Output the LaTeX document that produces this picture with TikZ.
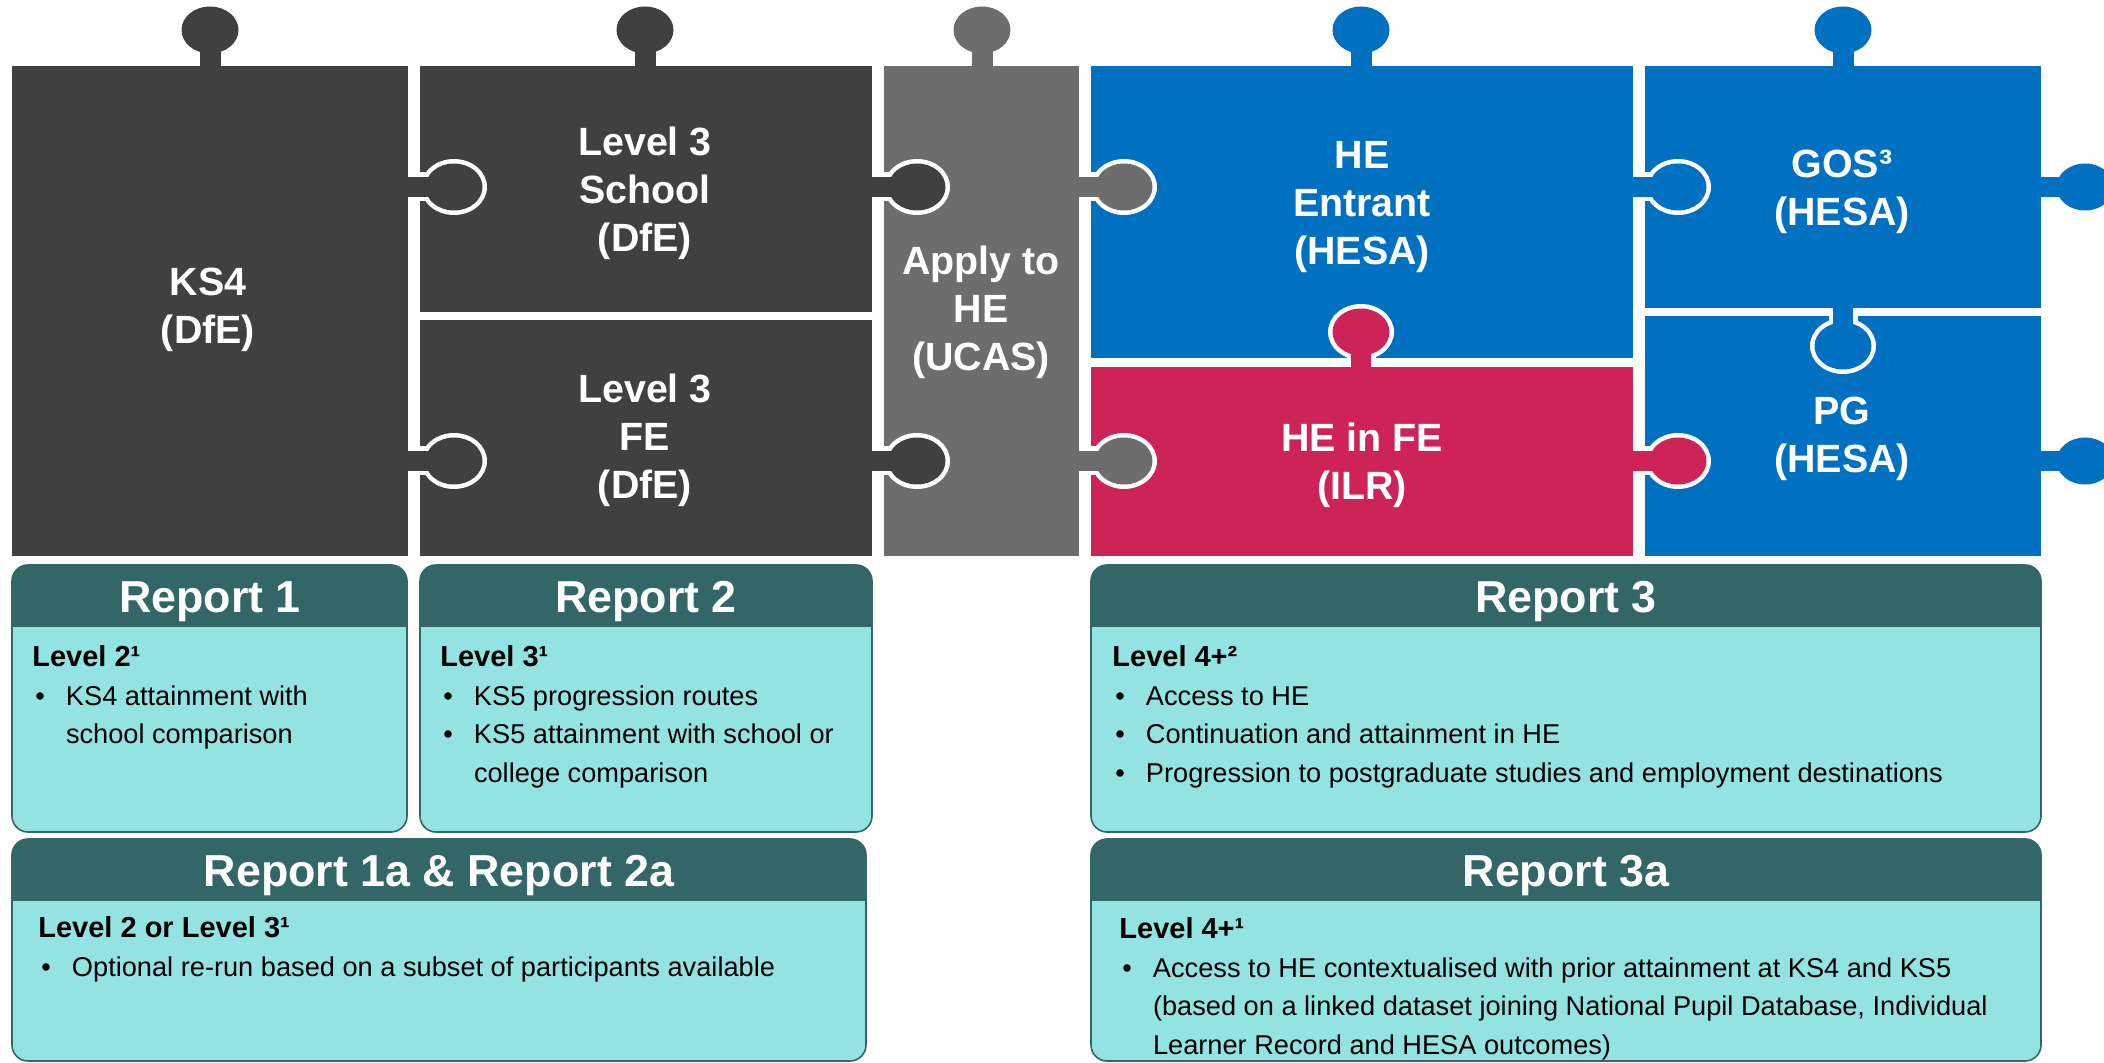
\documentclass[tikz,border=0pt]{standalone}
\usepackage{fontspec}
\setmainfont{Liberation Sans}
\definecolor{darkpiece}{HTML}{404040}
\definecolor{greypiece}{HTML}{6D6D6D}
\definecolor{bluepiece}{HTML}{0070C0}
\definecolor{redpiece}{HTML}{CE2357}
\definecolor{headteal}{HTML}{336666}
\definecolor{bodycyan}{HTML}{94E3E3}
\newcommand{\blt}{\hspace*{1.5pt}\makebox[15.3pt][l]{\textbullet}}
\newcommand{\bltgap}{\hspace*{16.8pt}}
\newcommand{\lvl}[1]{{\bfseries\fontsize{14.5}{19.3}\selectfont #1}}

\begin{document}
\begin{tikzpicture}[x=0.5pt,y=-0.5pt,
  piecetext/.style={text=white,font=\bfseries\fontsize{19.7}{24}\selectfont,align=center,inner sep=0pt},
  headtext/.style={text=white,anchor=base,font=\bfseries\fontsize{22.4}{26}\selectfont,inner sep=0pt},
  bodytext/.style={anchor=north west,align=left,inner sep=0pt,font=\fontsize{13.6}{19.3}\selectfont}]
\useasboundingbox (0,0) rectangle (2104,1063);
\clip (0,0) rectangle (2104,1063);

% puzzle pieces
\fill[darkpiece] (12,66) rectangle (408,556);
\fill[darkpiece] (420,66) rectangle (872,312);
\fill[darkpiece] (420,320) rectangle (872,556);
\fill[greypiece] (884,66) rectangle (1079,556);
\fill[bluepiece] (1091,66) rectangle (1633,358);
\fill[redpiece] (1091,367) rectangle (1633,556);
\fill[bluepiece] (1645,66) rectangle (2041,308);
\fill[bluepiece] (1645,316) rectangle (2041,556);

% knobs on top and on the right
\foreach \x/\c in {210/darkpiece,645/darkpiece,982/greypiece,1361/bluepiece,1843/bluepiece}{
  \fill[\c] (\x,30) ellipse [x radius=28.5,y radius=23.5];
  \fill[\c] (\x-10.5,30) rectangle (\x+10.5,68);
}
\foreach \y in {187,461}{
  \fill[bluepiece] (2085,\y) ellipse [x radius=28.5,y radius=23.5];
  \fill[bluepiece] (2039,\y-10) rectangle (2085,\y+10);
}

% knobs fitted into the next piece
\foreach \x/\y/\c in {454/187/darkpiece,454/461/darkpiece,917/187/darkpiece,917/461/darkpiece,
    1124/187/greypiece,1124/461/greypiece,1678/187/bluepiece,1678/461/redpiece}{
  \fill[white] (\x,\y) ellipse [x radius=33,y radius=28];
  \fill[white] (\x-34,\y-14.5) rectangle (\x,\y+14.5);
  \fill[\c] (\x,\y) ellipse [x radius=28.5,y radius=23.5];
  \fill[\c] (\x-48,\y-10) rectangle (\x,\y+10);
}
\fill[white] (1361,332) ellipse [x radius=33,y radius=28];
\fill[white] (1346.5,332) rectangle (1375.5,367);
\fill[redpiece] (1361,332) ellipse [x radius=28.5,y radius=23.5];
\fill[redpiece] (1351,332) rectangle (1371,369);
\fill[white] (1843,346) ellipse [x radius=33,y radius=28];
\fill[white] (1828.5,316) rectangle (1857.5,346);
\fill[bluepiece] (1843,346) ellipse [x radius=28.5,y radius=23.5];
\fill[bluepiece] (1833,306) rectangle (1853,346);

\node[piecetext] (ks4) at (208,310) {KS4\\(DfE)};
\node[piecetext] (school) at (645,193) {Level 3\\School\\(DfE)};
\node[piecetext] (fe) at (645,440) {Level 3\\FE\\(DfE)};
\node[piecetext] (ucas) at (981,312) {Apply to\\HE\\(UCAS)};
\node[piecetext] (entrant) at (1362,207) {HE\\Entrant\\(HESA)};
\node[piecetext] (heinfe) at (1362,465) {HE in FE\\(ILR)};
\node[piecetext] (gos) at (1842,192) {GOS³\\(HESA)};
\node[piecetext] (pg) at (1842,439) {PG\\(HESA)};

% report boxes
\foreach \a/\b/\c/\d/\e in {12/565/407/832/627,420/565/872/832/627,1091/565/2041/832/627,
    12/839/866/1061/901,1091/839/2041/1061/901}{
  \begin{scope}
    \clip[rounded corners=8pt] (\a,\b) rectangle (\c,\d);
    \fill[bodycyan] (\a,\b) rectangle (\c,\d);
    \fill[headteal] (\a,\b) rectangle (\c,\e);
  \end{scope}
  \draw[headteal,line width=0.8pt,rounded corners=8pt] (\a,\b) rectangle (\c,\d);
}

\node[headtext] (rep1) at (210,612) {Report 1};
\node[headtext] (rep2) at (646,612) {Report 2};
\node[headtext] (rep3) at (1566,612) {Report 3};
\node[headtext] (rep12a) at (439,886) {Report 1a \& Report 2a};
\node[headtext] (rep3a) at (1566,886) {Report 3a};

\node[bodytext] (body1) at (32,645) {\lvl{Level 2¹}\\
  \blt KS4 attainment with\\ \bltgap school comparison};
\node[bodytext] (body2) at (440,645) {\lvl{Level 3¹}\\
  \blt KS5 progression routes\\
  \blt KS5 attainment with school or\\ \bltgap college comparison};
\node[bodytext] (body3) at (1112,645) {\lvl{Level 4+²}\\
  \blt Access to HE\\
  \blt Continuation and attainment in HE\\
  \blt Progression to postgraduate studies and employment destinations};
\node[bodytext] (body12a) at (38,916) {\lvl{Level 2 or Level 3¹}\\
  \blt Optional re-run based on a subset of participants available};
\node[bodytext] (body3a) at (1119,917) {\lvl{Level 4+¹}\\
  \blt Access to HE contextualised with prior attainment at KS4 and KS5\\
  \bltgap (based on a linked dataset joining National Pupil Database, Individual\\
  \bltgap Learner Record and HESA outcomes)};
\end{tikzpicture}
\end{document}
